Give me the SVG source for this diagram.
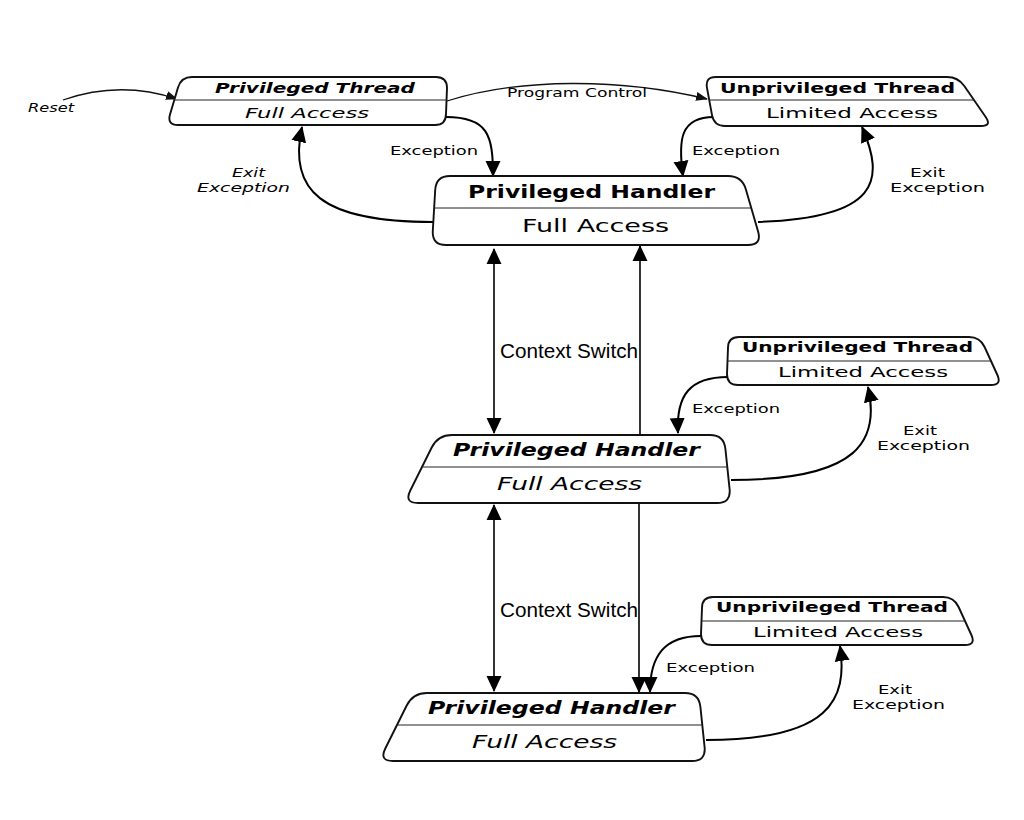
<svg xmlns="http://www.w3.org/2000/svg" width="1024" height="820" viewBox="0 0 1024 820">
<defs>
<style>
.box{fill:#fff;stroke:#111;stroke-width:1.9;stroke-linejoin:round}
.div{stroke:#222;stroke-width:1}
.t{font-family:"DejaVu Sans",Verdana,sans-serif;fill:#000}
.b{font-weight:bold}
.i{font-style:italic}
.c{fill:none;stroke:#000;stroke-width:2}
.thin{fill:none;stroke:#111;stroke-width:1.3}
.v{fill:none;stroke:#000;stroke-width:1.6}
.cs{font-family:"Liberation Sans",Arial,sans-serif;font-size:19.5px;fill:#000}
</style>
<marker id="ah" viewBox="0 0 16 16" markerWidth="16" markerHeight="16" refX="15" refY="8" orient="auto-start-reverse" markerUnits="userSpaceOnUse">
<path d="M0,0.5 L16,8 L0,15.5 z" fill="#000"/>
</marker>
<marker id="as" viewBox="0 0 12 10" markerWidth="12" markerHeight="10" refX="11" refY="5" orient="auto" markerUnits="userSpaceOnUse">
<path d="M0,0.5 L12,5 L0,9.5 z" fill="#111"/>
</marker>
</defs>
<rect width="1024" height="820" fill="#fff"/>

<g id="connectors">
<path class="thin" d="M63,100 Q120,80 177,99" marker-end="url(#as)"/>
<path class="thin" d="M447,101 C520,78 620,78 707,99" marker-end="url(#as)"/>
<path class="c" d="M446,117 C488,117 493,135 493,176" marker-end="url(#ah)"/>
<path class="c" d="M714,117 C680,117 678,140 683,176" marker-end="url(#ah)"/>
<path class="c" d="M433,222 C320,222 288,190 302,127" marker-end="url(#ah)"/>
<path class="c" d="M758,222 C880,218 885,180 862,127" marker-end="url(#ah)"/>
<path class="v" d="M494,249 L494,433" marker-start="url(#ah)" marker-end="url(#ah)"/>
<path class="v" d="M640,435 L640,246" marker-end="url(#ah)"/>
<path class="v" d="M494,505 L494,691" marker-start="url(#ah)" marker-end="url(#ah)"/>
<path class="v" d="M639,504 L639,692" marker-end="url(#ah)"/>
<path class="c" d="M728,377 C690,377 676,395 678,433" marker-end="url(#ah)"/>
<path class="c" d="M731,480 C860,480 880,440 868,387" marker-end="url(#ah)"/>
<path class="c" d="M701,636 C665,636 650,655 650,692" marker-end="url(#ah)"/>
<path class="c" d="M706,740 C830,740 848,700 840,646" marker-end="url(#ah)"/>
<text class="t i" x="28" y="112" font-size="12" textLength="46" lengthAdjust="spacingAndGlyphs">Reset</text>
<text class="t" x="507" y="97" font-size="11.5" textLength="140" lengthAdjust="spacingAndGlyphs">Program Control</text>
<text class="t" x="390" y="155" font-size="11.5" textLength="88" lengthAdjust="spacingAndGlyphs">Exception</text>
<text class="t" x="692" y="155" font-size="11.5" textLength="88" lengthAdjust="spacingAndGlyphs">Exception</text>
<text class="t i" x="232" y="177" font-size="12.5" textLength="33" lengthAdjust="spacingAndGlyphs">Exit</text>
<text class="t i" x="197" y="192" font-size="12.5" textLength="93" lengthAdjust="spacingAndGlyphs">Exception</text>
<text class="t" x="910" y="177" font-size="12.5" textLength="35" lengthAdjust="spacingAndGlyphs">Exit</text>
<text class="t" x="890" y="192" font-size="12.5" textLength="95" lengthAdjust="spacingAndGlyphs">Exception</text>
<text class="cs" x="500" y="358" textLength="138" lengthAdjust="spacingAndGlyphs">Context Switch</text>
<text class="t" x="692" y="413" font-size="11.5" textLength="88" lengthAdjust="spacingAndGlyphs">Exception</text>
<text class="t" x="903" y="435" font-size="12.5" textLength="34" lengthAdjust="spacingAndGlyphs">Exit</text>
<text class="t" x="877" y="450" font-size="12.5" textLength="93" lengthAdjust="spacingAndGlyphs">Exception</text>
<text class="cs" x="500" y="617" textLength="138" lengthAdjust="spacingAndGlyphs">Context Switch</text>
<text class="t" x="666" y="672" font-size="11.5" textLength="89" lengthAdjust="spacingAndGlyphs">Exception</text>
<text class="t" x="878" y="694" font-size="12.5" textLength="34" lengthAdjust="spacingAndGlyphs">Exit</text>
<text class="t" x="852" y="709" font-size="12.5" textLength="93" lengthAdjust="spacingAndGlyphs">Exception</text>
</g>

<g id="privileged-thread">
<path class="box" d="M192,77 L436,77 Q447,77 447,88 L446,114 Q446,125 435,125 L178,125 Q167,125 170,114.4 L178,87.6 Q181,77 192,77 Z"/>
<line class="div" x1="174" y1="100" x2="447" y2="100"/>
<text class="t b i" x="215" y="93" font-size="14.5" textLength="200" lengthAdjust="spacingAndGlyphs">Privileged Thread</text>
<text class="t i" x="245" y="118" font-size="14.5" textLength="124" lengthAdjust="spacingAndGlyphs">Full Access</text>
</g>

<g id="unprivileged-thread-1">
<path class="box" d="M716,77 L947,77 Q958,77 964.3,86 L985.7,117 Q992,126 981,126 L725,126 Q714,126 712,115.2 L707,87.8 Q705,77 716,77 Z"/>
<line class="div" x1="709" y1="100" x2="974" y2="100"/>
<text class="t b" x="720" y="93" font-size="14.5" textLength="235" lengthAdjust="spacingAndGlyphs">Unprivileged Thread</text>
<text class="t" x="766" y="118" font-size="14.5" textLength="172" lengthAdjust="spacingAndGlyphs">Limited Access</text>
</g>

<g id="privileged-handler-1">
<path class="box" d="M450,176 L728,176 Q742,176 745.9,189.4 L758.1,231.6 Q762,245 748,245 L446,245 Q432,245 432.8,231 L435.2,190 Q436,176 450,176 Z"/>
<line class="div" x1="434" y1="208" x2="751" y2="208"/>
<text class="t b" x="468" y="198" font-size="18.5" textLength="247" lengthAdjust="spacingAndGlyphs">Privileged Handler</text>
<text class="t" x="522" y="232" font-size="17.5" textLength="147" lengthAdjust="spacingAndGlyphs">Full Access</text>
</g>

<g id="unprivileged-thread-2">
<path class="box" d="M739,337 L969,337 Q980,337 984.6,347 L997.4,375 Q1002,385 991,385 L738,385 Q727,385 727,374 L728,348 Q728,337 739,337 Z"/>
<line class="div" x1="727.5" y1="361" x2="991" y2="361"/>
<text class="t b" x="742" y="352" font-size="14.5" textLength="231" lengthAdjust="spacingAndGlyphs">Unprivileged Thread</text>
<text class="t" x="778" y="377" font-size="14.5" textLength="170" lengthAdjust="spacingAndGlyphs">Limited Access</text>
</g>

<g id="privileged-handler-2">
<path class="box" d="M452,435 L710,435 Q724,435 725.4,448.9 L729.6,489.1 Q731,503 717,503 L418,503 Q404,503 410.3,490.5 L431.7,447.5 Q438,435 452,435 Z"/>
<line class="div" x1="422" y1="467" x2="727" y2="467"/>
<text class="t b i" x="453" y="456" font-size="18.5" textLength="247" lengthAdjust="spacingAndGlyphs">Privileged Handler</text>
<text class="t i" x="497" y="490" font-size="17.5" textLength="145" lengthAdjust="spacingAndGlyphs">Full Access</text>
</g>

<g id="unprivileged-thread-3">
<path class="box" d="M713,597 L943,597 Q954,597 958.6,607 L971.4,635 Q976,645 965,645 L712,645 Q701,645 701,634 L702,608 Q702,597 713,597 Z"/>
<line class="div" x1="701.5" y1="621" x2="965" y2="621"/>
<text class="t b" x="716" y="612" font-size="14.5" textLength="232" lengthAdjust="spacingAndGlyphs">Unprivileged Thread</text>
<text class="t" x="753" y="637" font-size="14.5" textLength="170" lengthAdjust="spacingAndGlyphs">Limited Access</text>
</g>

<g id="privileged-handler-3">
<path class="box" d="M427,693 L685,693 Q699,693 700.4,706.9 L704.6,747.1 Q706,761 692,761 L393,761 Q379,761 385.3,748.5 L406.7,705.5 Q413,693 427,693 Z"/>
<line class="div" x1="397" y1="725" x2="702" y2="725"/>
<text class="t b i" x="428" y="714" font-size="18.5" textLength="247" lengthAdjust="spacingAndGlyphs">Privileged Handler</text>
<text class="t i" x="472" y="748" font-size="17.5" textLength="145" lengthAdjust="spacingAndGlyphs">Full Access</text>
</g>
</svg>
